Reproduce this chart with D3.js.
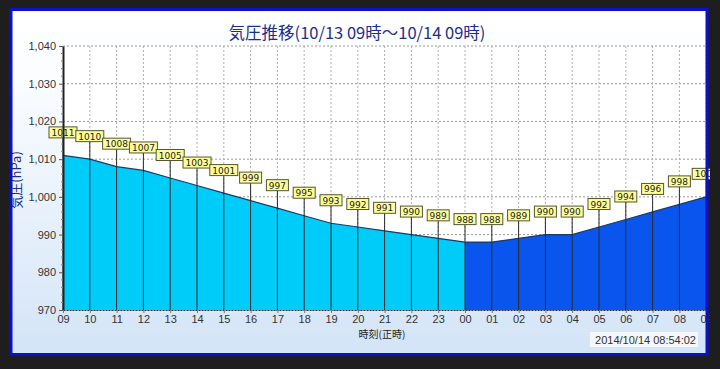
<!DOCTYPE html>
<html>
<head>
<meta charset="utf-8">
<script src="https://cdn.jsdelivr.net/npm/d3@7"></script>
<style>
  body { margin: 0; background: #1e1e1e; }
  svg { display: block; }
</style>
</head>
<body>
<div class="chart"></div>
<script>
var W = 720, H = 369;

// data
var hours = ['09','10','11','12','13','14','15','16','17','18','19','20','21','22','23',
             '00','01','02','03','04','05','06','07','08','09'];
var pressure = [1011,1010,1008,1007,1005,1003,1001,999,997,995,993,992,991,990,989,
                988,988,989,990,990,992,994,996,998,1000];
var yTicks = [970, 980, 990, 1000, 1010, 1020, 1030, 1040];
var dayBreak = 15; // index of 00

var svg = d3.select('.chart')
  .append('svg')
  .attr('width', W)
  .attr('height', H);

var defs = svg.append('defs');
var grad = defs.append('linearGradient')
  .attr('id', 'bg')
  .attr('x1', 0).attr('y1', 0).attr('x2', 0).attr('y2', 1);
grad.append('stop').attr('offset', '0%').attr('stop-color', '#ffffff');
grad.append('stop').attr('offset', '20%').attr('stop-color', '#fbfdff');
grad.append('stop').attr('offset', '100%').attr('stop-color', '#d3e4f7');

// panel background
svg.append('rect')
  .attr('x', 11).attr('y', 10)
  .attr('width', 697).attr('height', 345)
  .style('fill', 'url(#bg)');

var x = d3.scaleLinear().domain([0, 24]).range([63, 63 + 24 * 26.8]);
var y = d3.scaleLinear().domain([970, 1040]).range([310, 46]);

var plot = svg.append('g');

// plot background
plot.append('rect')
  .attr('x', x(0)).attr('y', y(1040))
  .attr('width', x(24) - x(0)).attr('height', y(970) - y(1040))
  .style('fill', '#ffffff');

// grid
plot.selectAll('.hgrid')
  .data(yTicks)
  .enter()
  .append('line')
  .attr('x1', x(0)).attr('x2', x(24))
  .attr('y1', d => y(d)).attr('y2', d => y(d))
  .style('stroke', '#9a9a9a')
  .style('stroke-dasharray', '2,2');

plot.selectAll('.vgrid')
  .data(d3.range(1, 25))
  .enter()
  .append('line')
  .attr('x1', d => x(d)).attr('x2', d => x(d))
  .attr('y1', y(1040)).attr('y2', y(970))
  .style('stroke', '#b0b0b0')
  .style('stroke-dasharray', '2,2');

var area = d3.area()
  .x(d => x(d.i))
  .y0(y(970))
  .y1(d => y(d.v));

var pts = pressure.map((v, i) => ({i: i, v: v}));

plot.append('path')
  .datum(pts.slice(0, dayBreak + 1))
  .attr('d', area)
  .style('fill', '#00ccfa');

plot.append('path')
  .datum(pts.slice(dayBreak))
  .attr('d', area)
  .style('fill', '#0a55ee');

plot.append('path')
  .datum(pts)
  .attr('d', d3.line().x(d => x(d.i)).y(d => y(d.v)))
  .style('fill', 'none')
  .style('stroke', '#1a3a6a')
  .style('stroke-width', 1.2);

// drop lines + labels
var labelOff = 23;
plot.selectAll('.drop')
  .data(pts)
  .enter()
  .append('line')
  .attr('x1', d => x(d.i)).attr('x2', d => x(d.i))
  .attr('y1', d => y(d.v) - labelOff + 5)
  .attr('y2', y(970))
  .style('stroke', '#2a2a2a')
  .style('stroke-width', 1);

var labels = plot.selectAll('.lbl')
  .data(pts)
  .enter()
  .append('g')
  .attr('transform', d => `translate(${x(d.i)}, ${y(d.v) - labelOff})`);

labels.append('rect')
  .attr('x', d => d.v >= 1000 ? -14 : -11)
  .attr('y', -5.5)
  .attr('width', d => d.v >= 1000 ? 28 : 22)
  .attr('height', 11)
  .style('fill', '#ffff99')
  .style('stroke', '#555533')
  .style('stroke-width', 1);

labels.append('text')
  .attr('y', 3.5)
  .style('text-anchor', 'middle')
  .style('font-family', 'DejaVu Sans, sans-serif')
  .style('font-size', '9px')
  .style('fill', '#222')
  .text(d => d.v);

// axes
var yAxis = d3.axisLeft(y)
  .tickValues(yTicks)
  .tickSize(4)
  .tickSizeOuter(0)
  .tickFormat(d3.format(','));
var yAxisG = svg.append('g')
  .attr('transform', `translate(${x(0)}, 0)`)
  .call(yAxis);
yAxisG.select('.domain').style('stroke', '#222').style('stroke-width', 2);
yAxisG.selectAll('.tick line').style('stroke', '#555');
yAxisG.selectAll('text')
  .style('font-family', 'Liberation Sans, Arial, sans-serif')
  .style('font-size', '11px')
  .style('fill', '#333');

// minor ticks on y axis
svg.append('g')
  .selectAll('line')
  .data(d3.range(972, 1040, 2).filter(v => v % 10 !== 0))
  .enter()
  .append('line')
  .attr('x1', x(0) - 2).attr('x2', x(0))
  .attr('y1', d => y(d)).attr('y2', d => y(d))
  .style('stroke', '#888');

var xAxis = d3.axisBottom(x)
  .tickValues(d3.range(0, 25))
  .tickSize(3)
  .tickSizeOuter(0)
  .tickPadding(2)
  .tickFormat(i => hours[i]);
var xAxisG = svg.append('g')
  .attr('transform', `translate(0, ${y(970)})`)
  .call(xAxis);
xAxisG.select('.domain').style('stroke', '#333').style('stroke-dasharray', '2,1');
xAxisG.selectAll('.tick line').style('stroke', '#777');
xAxisG.selectAll('text')
  .style('font-family', 'Liberation Sans, Arial, sans-serif')
  .style('font-size', '11px')
  .style('fill', '#333');

// title
svg.append('text')
  .attr('x', 357).attr('y', 39)
  .style('text-anchor', 'middle')
  .style('font-family', 'Noto Sans CJK JP, sans-serif')
  .style('font-size', '16.5px')
  .style('fill', '#1c2e8c')
  .text('気圧推移(10/13 09時～10/14 09時)');

svg.append('text')
  .attr('transform', 'translate(21, 180) rotate(-90)')
  .style('text-anchor', 'middle')
  .style('font-family', 'Noto Sans CJK JP, sans-serif')
  .style('font-size', '13px')
  .style('fill', '#1c2e8c')
  .text('気圧(hPa)');

svg.append('text')
  .attr('x', 382).attr('y', 338)
  .style('text-anchor', 'middle')
  .style('font-family', 'Noto Sans CJK JP, sans-serif')
  .style('font-size', '10px')
  .style('fill', '#222')
  .text('時刻(正時)');

svg.append('rect')
  .attr('x', 590).attr('y', 332)
  .attr('width', 108).attr('height', 15)
  .style('fill', '#f4f8fc');
svg.append('text')
  .attr('x', 696).attr('y', 344)
  .style('text-anchor', 'end')
  .style('font-family', 'Liberation Sans, Arial, sans-serif')
  .style('font-size', '11px')
  .style('fill', '#333')
  .text('2014/10/14 08:54:02');

// outer dark area + blue frame (covers the clipped right edge)
svg.append('rect')
  .attr('x', 710).attr('y', 0).attr('width', 10).attr('height', H)
  .style('fill', '#1e1e1e');
svg.append('rect')
  .attr('x', 11).attr('y', 9.5)
  .attr('width', 696).attr('height', 345)
  .style('fill', 'none')
  .style('stroke', '#0a10cc')
  .style('stroke-width', 3);
</script>
</body>
</html>
